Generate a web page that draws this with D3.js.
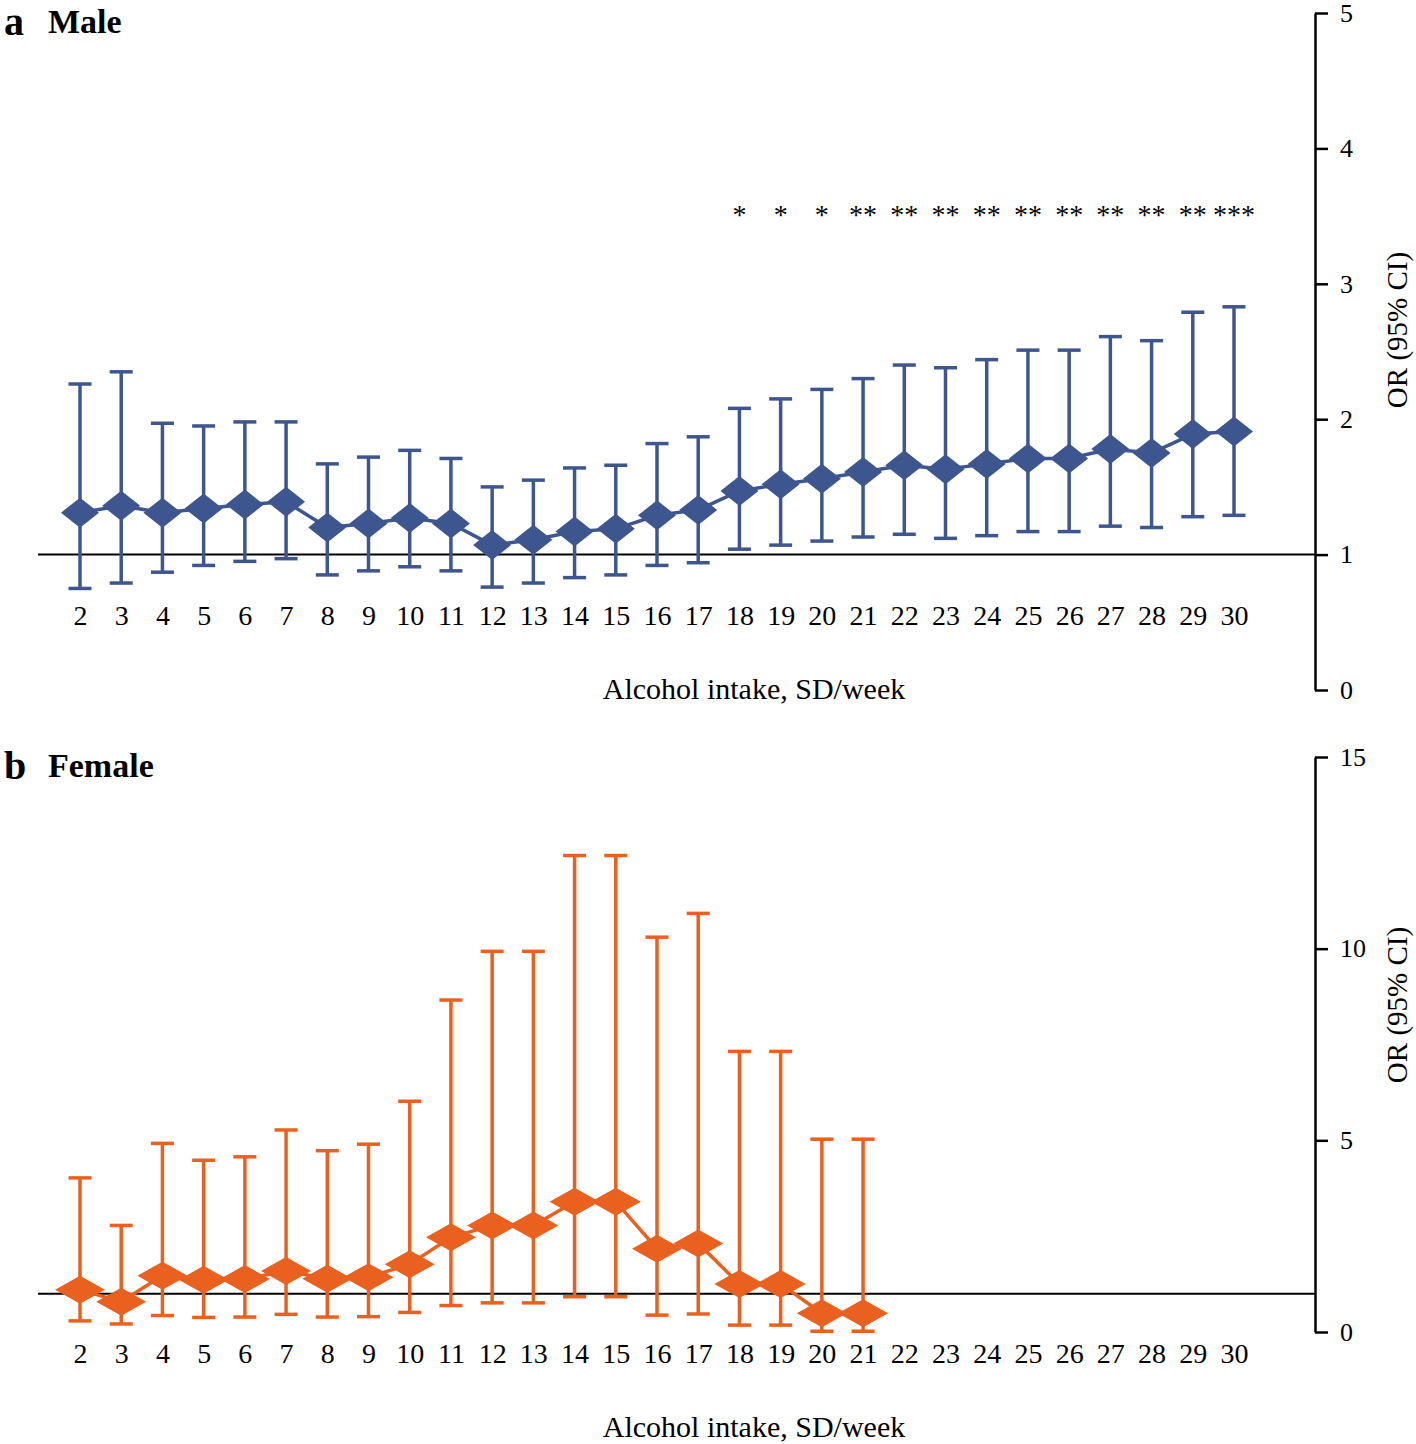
<!DOCTYPE html>
<html>
<head>
<meta charset="utf-8">
<script src="https://cdn.jsdelivr.net/npm/d3@7"></script>
<style>
  body { margin: 0; background: #fff; }
  text { font-family: "Liberation Serif", "Times New Roman", serif; fill: #000; }
</style>
</head>
<body>
<div id="chart"></div>
<script>
// alcohol intake categories (SD/week)
var intake = [2, 3, 4, 5, 6, 7, 8, 9, 10, 11, 12, 13, 14, 15, 16, 17, 18, 19, 20, 21, 22, 23, 24, 25, 26, 27, 28, 29, 30];

// male OR and 95% CI, intake 2..30
var maleOR = [1.31, 1.36, 1.31, 1.34, 1.37, 1.39, 1.20, 1.23, 1.27, 1.23, 1.07, 1.11, 1.17, 1.19, 1.29, 1.33, 1.47, 1.52, 1.56, 1.61, 1.66, 1.63, 1.67, 1.71, 1.71, 1.78, 1.75, 1.89, 1.91];
var maleLo = [0.75, 0.79, 0.87, 0.92, 0.95, 0.97, 0.85, 0.88, 0.91, 0.88, 0.76, 0.79, 0.83, 0.85, 0.92, 0.94, 1.04, 1.07, 1.10, 1.13, 1.15, 1.12, 1.14, 1.17, 1.17, 1.21, 1.20, 1.28, 1.29];
var maleHi = [2.26, 2.35, 1.97, 1.95, 1.98, 1.98, 1.67, 1.72, 1.77, 1.71, 1.50, 1.55, 1.64, 1.66, 1.82, 1.87, 2.08, 2.15, 2.22, 2.30, 2.40, 2.38, 2.44, 2.51, 2.51, 2.61, 2.58, 2.79, 2.83];

// significance marks for male panel
var starIntake = [18, 19, 20, 21, 22, 23, 24, 25, 26, 27, 28, 29, 30];
var starLabels = ["*", "*", "*", "**", "**", "**", "**", "**", "**", "**", "**", "**", "***"];

// female OR and 95% CI, intake 2..21
var femaleOR = [1.10, 0.79, 1.47, 1.36, 1.38, 1.59, 1.39, 1.43, 1.77, 2.47, 2.78, 2.78, 3.40, 3.40, 2.17, 2.31, 1.25, 1.25, 0.49, 0.49];
var femaleLo = [0.29, 0.21, 0.43, 0.38, 0.39, 0.46, 0.39, 0.40, 0.51, 0.69, 0.76, 0.76, 0.92, 0.92, 0.44, 0.47, 0.18, 0.18, 0.02, 0.02];
var femaleHi = [4.02, 2.78, 4.92, 4.48, 4.57, 5.27, 4.73, 4.90, 6.02, 8.66, 9.93, 9.93, 12.43, 12.43, 10.30, 10.92, 7.32, 7.32, 5.03, 5.03];

var maleTicks = [0, 1, 2, 3, 4, 5];
var femaleTicks = [0, 5, 10, 15];

var svg = d3.select("#chart")
            .append("svg")
            .attr("width", 1416)
            .attr("height", 1444);

svg.append("rect")
   .attr("width", 1416)
   .attr("height", 1444)
   .attr("fill", "#fff");

var x = d3.scalePoint()
          .domain(intake)
          .range([80, 1234]);

var axisX = 1315;

function drawPanel(p) {
    var y = d3.scaleLinear().domain(p.domain).range(p.range);
    var g = svg.append("g");
    var rows = p.or.map(function(v, i) {
        return { k: intake[i], or: v, lo: p.lo[i], hi: p.hi[i] };
    });

    // panel letter and title
    g.append("text").attr("x", 4).attr("y", p.titleY + 2)
     .attr("font-size", 40).attr("font-weight", "bold").text(p.letter);
    g.append("text").attr("x", 48).attr("y", p.titleY)
     .attr("font-size", 34).attr("font-weight", "bold").text(p.title);

    // reference line at OR = 1
    g.append("line")
     .attr("x1", 38).attr("x2", axisX)
     .attr("y1", y(1)).attr("y2", y(1))
     .attr("stroke", "#000").attr("stroke-width", 2);

    // right y axis
    var yAxis = g.append("g")
     .attr("transform", "translate(" + axisX + ",0)")
     .call(d3.axisRight(y).tickValues(p.ticks).tickFormat(d3.format("d"))
             .tickSize(13).tickSizeOuter(0).tickPadding(12));
    yAxis.selectAll("path,line").attr("stroke", "#000").attr("stroke-width", 2.5);
    yAxis.selectAll("text").attr("font-size", 26).attr("font-family", "Liberation Serif, serif");

    g.append("text")
     .attr("transform", "translate(1407," + p.yTitleY + ") rotate(-90)")
     .attr("text-anchor", "middle")
     .attr("font-size", 29)
     .text("OR (95% CI)");

    // x tick labels
    var xAxis = g.append("g")
     .attr("transform", "translate(0," + (p.xLabelY - 30) + ")")
     .call(d3.axisBottom(x).tickSize(0).tickPadding(10));
    xAxis.select(".domain").remove();
    xAxis.selectAll("text").attr("font-size", 28).attr("font-family", "Liberation Serif, serif");

    g.append("text")
     .attr("x", 754).attr("y", p.xLabelY + 74)
     .attr("text-anchor", "middle")
     .attr("font-size", 30)
     .text("Alcohol intake, SD/week");

    // error bars
    var bars = g.selectAll(".bar").data(rows).enter().append("g")
                .attr("stroke", p.color).attr("stroke-width", 3.5);
    bars.append("line")
        .attr("x1", function(d) { return x(d.k); })
        .attr("x2", function(d) { return x(d.k); })
        .attr("y1", function(d) { return y(d.lo); })
        .attr("y2", function(d) { return y(d.hi); });
    bars.append("line")
        .attr("x1", function(d) { return x(d.k) - 11.5; })
        .attr("x2", function(d) { return x(d.k) + 11.5; })
        .attr("y1", function(d) { return y(d.hi); })
        .attr("y2", function(d) { return y(d.hi); });
    bars.append("line")
        .attr("x1", function(d) { return x(d.k) - 11.5; })
        .attr("x2", function(d) { return x(d.k) + 11.5; })
        .attr("y1", function(d) { return y(d.lo); })
        .attr("y2", function(d) { return y(d.lo); });

    // connecting line
    g.append("path")
     .datum(rows)
     .attr("fill", "none")
     .attr("stroke", p.color)
     .attr("stroke-width", 3.5)
     .attr("d", d3.line().x(function(d) { return x(d.k); }).y(function(d) { return y(d.or); }));

    // diamonds
    var w = p.dw / 2, h = p.dh / 2;
    g.selectAll(".dia").data(rows).enter().append("path")
     .attr("fill", p.color)
     .attr("d", function(d) {
         var cx = x(d.k), cy = y(d.or);
         return "M" + (cx - w) + "," + cy + "L" + cx + "," + (cy - h) +
                "L" + (cx + w) + "," + cy + "L" + cx + "," + (cy + h) + "Z";
     });

    return y;
}

var yMale = drawPanel({
    letter: "a", title: "Male", titleY: 33,
    domain: [0, 5], range: [690, 13], ticks: maleTicks,
    or: maleOR, lo: maleLo, hi: maleHi,
    color: "#3E568F", dw: 38, dh: 30,
    xLabelY: 625, yTitleY: 330
});

// stars above male points
svg.selectAll(".star").data(starIntake).enter().append("text")
   .attr("x", function(d) { return x(d); })
   .attr("y", 224)
   .attr("text-anchor", "middle")
   .attr("font-size", 28)
   .text(function(d, i) { return starLabels[i]; });

drawPanel({
    letter: "b", title: "Female", titleY: 777,
    domain: [0, 15], range: [1332, 757], ticks: femaleTicks,
    or: femaleOR, lo: femaleLo, hi: femaleHi,
    color: "#E9601F", dw: 50, dh: 28,
    xLabelY: 1363, yTitleY: 1005
});
</script>
</body>
</html>
